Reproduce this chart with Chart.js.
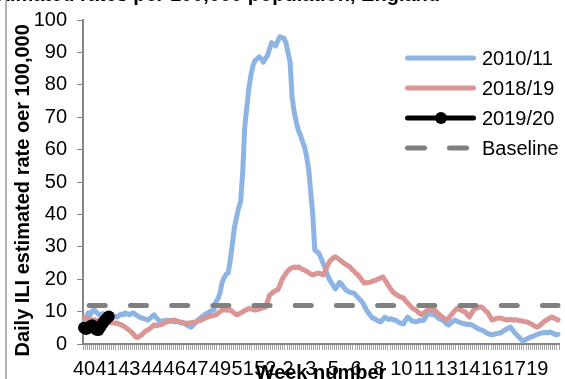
<!DOCTYPE html>
<html><head><meta charset="utf-8">
<script src="https://cdn.jsdelivr.net/npm/chart.js@4.4.1/dist/chart.umd.min.js"></script>
<style>
html,body{margin:0;padding:0;width:565px;height:379px;overflow:hidden;background:#fff;}
#wrap{position:relative;width:565px;height:379px;overflow:hidden;}
#c{position:absolute;left:0;top:-20px;}
#frame{position:absolute;left:5px;top:0;width:2px;height:379px;background:#b3b3b3;}
</style></head><body>
<div id="wrap"><canvas id="c" width="565" height="420"></canvas><div id="frame"></div></div>
<script>
// ---- data ----
const tickLabels = ['40','41','43','44','46','47','49','51','52','2','3','5','6','8','10','11','13','14','16','17','19'];
const labelEvery = 11; // one week-number label every 11 days

const series2010 = [
 7.0, 8.2, 9.6, 9.0, 10.2, 10.5, 9.8, 9.2, 8.8, 9.4,
 9.0, 8.6, 9.2, 8.8, 8.2, 8.6, 8.3, 8.8, 9.2, 9.0,
 9.6, 9.3, 9.0, 9.4, 9.6, 9.1, 8.7, 8.3, 8.0, 7.8,
 7.6, 7.4, 7.9, 8.5, 9.0, 8.2, 7.4, 6.8, 7.2, 7.0,
 7.4, 7.1, 7.3, 7.0, 6.8, 7.0, 6.7, 6.5, 6.5, 6.2,
 5.8, 5.5, 5.2, 5.8, 6.5, 7.2, 7.8, 8.3, 8.8, 9.2,
 9.6, 10.0, 10.3, 10.5, 13.0, 14.0, 15.7, 19.0, 20.5, 21.5,
 22.0, 26.0, 31.0, 36.0, 39.0, 42.0, 44.0, 53.0, 67.0, 73.0,
 79.0, 83.0, 86.0, 87.5, 88.0, 88.6, 88.0, 87.0, 88.0, 89.0,
 91.0, 93.0, 92.5, 92.0, 93.5, 94.8, 94.6, 94.4, 93.0, 90.0,
 87.0, 76.0, 71.6, 68.5, 66.0, 64.5, 62.5, 60.8, 58.0, 54.0,
 47.0, 40.0, 29.0, 28.5, 28.0, 26.5, 25.0, 23.5, 21.5, 20.0,
 19.0, 18.0, 17.0, 18.0, 19.0, 18.5, 17.5, 16.7, 16.3, 16.0,
 15.8, 15.7, 15.0, 14.3, 13.6, 13.0, 11.8, 10.6, 9.6, 8.8,
 8.0, 7.8, 7.4, 7.0, 6.8, 7.6, 8.3, 7.9, 7.6, 7.8,
 7.5, 7.4, 7.0, 6.6, 6.4, 6.2, 7.3, 8.3, 7.8, 7.2,
 7.0, 6.8, 7.0, 7.3, 7.2, 7.4, 8.5, 9.6, 9.4, 9.0,
 9.0, 8.6, 8.0, 7.6, 7.4, 6.8, 6.2, 5.9, 6.5, 7.0,
 7.4, 7.0, 6.8, 6.5, 6.4, 6.2, 6.0, 6.1, 5.9, 5.6,
 5.2, 4.8, 4.5, 4.3, 4.0, 3.6, 3.2, 3.0, 2.8, 3.0,
 3.2, 3.3, 3.4, 3.8, 4.2, 4.6, 5.0, 5.2, 4.3, 3.5,
 2.8, 2.2, 1.5, 0.9, 1.2, 1.6, 1.9, 2.2, 2.4, 2.7,
 3.0, 3.2, 3.4, 3.5, 3.6, 3.4, 3.7, 3.5, 3.2, 2.8,
 3.0
];

const series2018 = [
 8.0, 7.8, 7.9, 7.6, 7.4, 7.5, 7.3, 7.2, 7.4, 7.1,
 7.0, 6.8, 6.7, 6.5, 6.6, 6.4, 6.5, 6.2, 5.9, 5.6,
 5.2, 4.7, 4.2, 3.7, 3.0, 2.2, 2.0, 2.4, 2.8, 3.5,
 4.0, 4.3, 4.8, 5.3, 5.9, 5.6, 5.8, 5.9, 6.2, 6.5,
 6.8, 7.0, 7.2, 7.3, 7.4, 7.1, 6.9, 6.8, 6.6, 6.5,
 6.4, 6.5, 6.6, 6.7, 6.8, 7.0, 7.2, 7.4, 7.8, 8.0,
 8.3, 8.5, 8.7, 8.8, 9.0, 9.5, 10.0, 10.5, 10.6, 10.5,
 10.4, 10.5, 10.0, 9.5, 9.0, 9.2, 9.6, 9.9, 10.3, 10.6,
 11.0, 10.8, 10.6, 10.5, 10.6, 10.8, 11.0, 11.2, 11.4, 13.0,
 15.0, 15.6, 16.1, 16.5, 16.7, 18.0, 19.8, 20.8, 21.8, 22.6,
 23.2, 23.5, 23.8, 23.6, 23.8, 23.4, 23.0, 22.8, 22.4, 22.0,
 21.6, 21.3, 21.5, 21.8, 21.9, 21.6, 21.3, 22.5, 24.0, 25.3,
 26.0, 26.6, 26.9, 26.5, 26.0, 25.5, 25.0, 24.6, 24.2, 23.8,
 23.0, 22.5, 21.8, 21.3, 20.5, 19.6, 18.8, 18.9, 19.0, 19.1,
 19.4, 19.6, 19.8, 20.1, 20.4, 20.7, 19.8, 18.8, 17.8, 16.8,
 16.0, 15.5, 15.1, 14.7, 14.4, 14.2, 13.4, 12.7, 12.0, 11.3,
 10.8, 10.5, 9.9, 9.4, 9.0, 9.6, 10.1, 10.5, 10.6, 10.4,
 10.5, 10.0, 9.3, 8.7, 8.3, 7.8, 7.4, 8.0, 8.8, 9.6,
 10.3, 11.0, 10.8, 10.4, 10.1, 9.9, 9.0, 8.3, 9.4, 10.5,
 10.9, 11.2, 11.4, 11.4, 10.8, 10.2, 9.6, 8.5, 7.4, 7.6,
 7.8, 8.0, 8.0, 7.8, 7.6, 7.4, 7.5, 7.6, 7.4, 7.5,
 7.4, 7.3, 7.2, 7.0, 6.9, 6.8, 6.5, 6.2, 5.8, 5.5,
 5.2, 5.6, 6.2, 6.8, 7.2, 7.6, 8.0, 8.3, 8.0, 7.7,
 7.4
];

const series2019 = [5.0, 4.6, 4.9, 5.5, 5.8, 5.1, 4.4, 4.3, 5.3, 6.3, 7.2, 7.9, 8.5];

const baselineValue = 11.9;

const seriesNames = ['2010/11', '2018/19', '2019/20', 'Baseline'];

// ---- build ----
const dayIndex = series2010.map((_, i) => i);
const baselineSeries = dayIndex.map(() => baselineValue);

const BLUE = '#8db4e2', RED = '#d99694', BLACK = '#000000', GREY = '#808080';
const FONT = "'Liberation Sans', Arial, sans-serif";
const OFF = 20; // canvas is shifted up by 20px

const legendPlugin = {
  id: 'customLegend',
  afterDraw(chart) {
    const ctx = chart.ctx;
    const x0 = 407.5, x1 = 473.5, tx = 482;
    const rows = [58, 88, 118, 148];
    const styles = [
      {color: BLUE}, {color: RED}, {color: BLACK, marker: true}, {color: GREY, dash: true}
    ];
    ctx.save();
    ctx.font = '20px ' + FONT;
    ctx.textBaseline = 'middle';
    ctx.textAlign = 'left';
    rows.forEach((ry, i) => {
      const y = ry + OFF;
      const st = styles[i];
      ctx.beginPath();
      ctx.lineWidth = 5;
      ctx.lineCap = 'round';
      ctx.strokeStyle = st.color;
      ctx.setLineDash(st.dash ? [17, 25] : []);
      ctx.moveTo(x0, y); ctx.lineTo(x1, y);
      ctx.stroke();
      ctx.setLineDash([]);
      if (st.marker) {
        ctx.beginPath();
        ctx.fillStyle = BLACK;
        ctx.arc(441, y, 6, 0, Math.PI * 2);
        ctx.fill();
      }
      ctx.fillStyle = '#000';
      ctx.fillText(seriesNames[i], tx, y + 1);
    });
    // top (cut-off) chart title
    ctx.font = 'bold 20px ' + FONT;
    ctx.textAlign = 'right';
    ctx.textBaseline = 'alphabetic';
    ctx.fillText('Daily ILI estimated rates per 100,000 population, England', 440, 1 + OFF);
    ctx.restore();
  }
};

new Chart(document.getElementById('c'), {
  type: 'line',
  data: {
    labels: dayIndex,
    datasets: [
      {label: seriesNames[3], data: baselineSeries, borderColor: GREY, borderWidth: 5,
       borderDash: [16, 25.2], borderDashOffset: 36, borderCapStyle: 'round', pointRadius: 0, order: 0},
      {label: seriesNames[2], data: series2019, borderColor: BLACK, backgroundColor: BLACK, borderWidth: 5,
       pointRadius: 6, pointBackgroundColor: BLACK, pointBorderColor: BLACK, pointBorderWidth: 0, clip: false, order: 1},
      {label: seriesNames[1], data: series2018, borderColor: RED, borderWidth: 5, pointRadius: 0, order: 2},
      {label: seriesNames[0], data: series2010, borderColor: BLUE, borderWidth: 5, pointRadius: 0, order: 3}
    ]
  },
  options: {
    responsive: false,
    animation: false,
    devicePixelRatio: 1,
    layout: {padding: {left: 0, right: 0, top: 40, bottom: 0}},
    plugins: {legend: {display: false}, tooltip: {enabled: false}, title: {display: false}},
    elements: {line: {tension: 0, borderCapStyle: 'round', borderJoinStyle: 'round'}, point: {radius: 0}},
    scales: {
      x: {
        type: 'category',
        offset: true,
        grid: {display: true, drawOnChartArea: false, drawTicks: true, tickLength: 6, color: '#a6a6a6', lineWidth: 1, offset: true},
        border: {display: true, color: '#868686', width: 2},
        ticks: {
          autoSkip: false, maxRotation: 0, minRotation: 0, padding: 7, color: '#000',
          font: {family: FONT, size: 20},
          callback: (v, i) => (i % labelEvery === 0 && tickLabels[i / labelEvery] !== undefined) ? tickLabels[i / labelEvery] : ''
        },
        title: {display: true, text: 'Week number', color: '#000', font: {family: FONT, size: 20, weight: 'bold'}, padding: {top: 0, bottom: 15}},
        afterFit: s => { s.height = 56; }
      },
      y: {
        min: 0, max: 100,
        ticks: {stepSize: 10, padding: 10, color: '#000', font: {family: FONT, size: 20}},
        grid: {drawOnChartArea: false, tickLength: 6, color: '#868686', lineWidth: 1},
        border: {display: true, color: '#868686', width: 2},
        title: {display: true, text: 'Daily ILI estimated rate oer 100,000   ', color: '#000', font: {family: FONT, size: 20, weight: 'bold'}, padding: {top: 11, bottom: 0}},
        afterFit: s => { s.width = 83; }
      }
    }
  },
  plugins: [legendPlugin]
});
</script>
</body></html>
